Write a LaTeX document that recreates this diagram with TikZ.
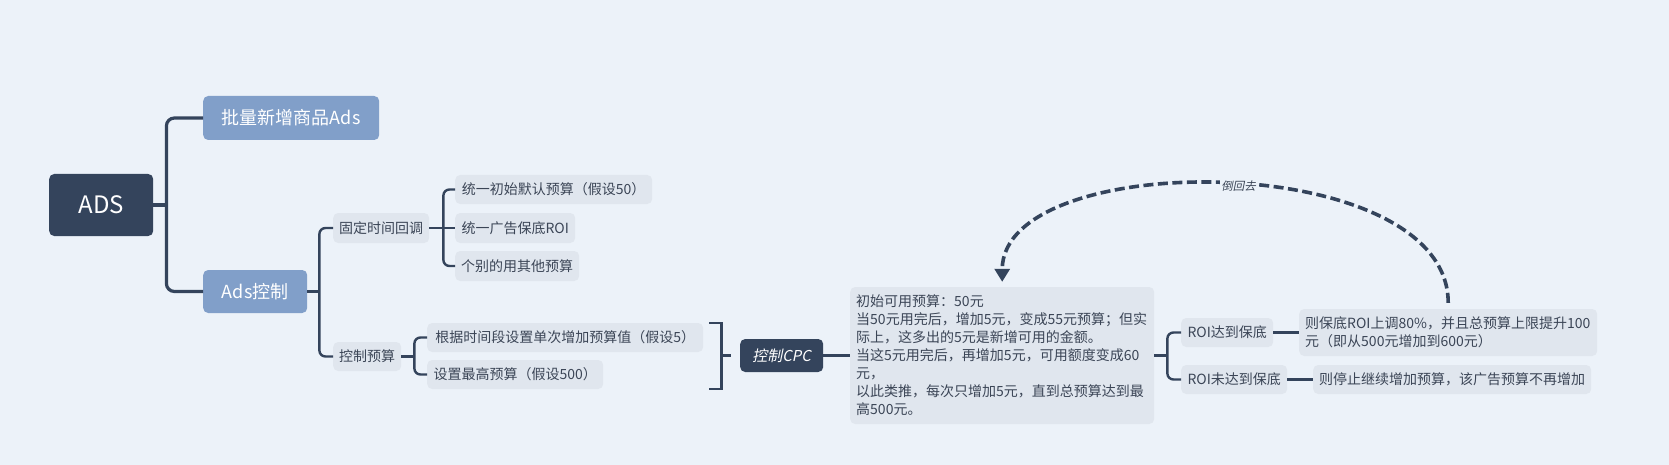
\documentclass[tikz,border=0pt]{standalone}
\usepackage{fontspec}
\setmainfont{Noto Sans CJK SC}
\newfontfamily\slantcjk{Noto Sans CJK SC}[FakeSlant=0.2]
\usepackage{xcolor}
\usetikzlibrary{arrows.meta, positioning}
\definecolor{bgc}{HTML}{ECF2F9}
\definecolor{dark}{HTML}{34445C}
\definecolor{mid}{HTML}{819FC9}
\definecolor{pale}{HTML}{E0E6EE}
\definecolor{txt}{HTML}{3B4556}

\begin{document}
\begin{tikzpicture}[x=1pt, y=-1pt,
    root/.style={fill=dark, text=white, rounded corners=5pt, anchor=west, font=\fontsize{24}{27}\selectfont, minimum width=104pt, minimum height=62pt},
    main/.style={fill=mid, text=white, rounded corners=5pt, anchor=west, font=\fontsize{18}{21}\selectfont, minimum height=44pt},
    leaf/.style={fill=pale, text=txt, rounded corners=5pt, anchor=west, inner xsep=6pt, font=\fontsize{14}{18}\selectfont, minimum height=29pt},
    branch/.style={draw=dark, line width=3.2pt, rounded corners=8pt},
    twig/.style={draw=dark, line width=2.4pt, rounded corners=6pt},
    brace/.style={draw=dark, line width=2.2pt}]
    \fill[bgc] (0,0) rectangle (1669,465);
    \useasboundingbox (0,0) rectangle (1669,465);

    \node[root] (ads) at (49,205) {ADS};
    \node[main, minimum width=176pt] (batch) at (203,118) {批量新增商品Ads};
    \node[main, minimum width=104pt, minimum height=43pt] (ctrl) at (203,291.5) {Ads控制};
    \node[leaf, minimum width=95pt, minimum height=30pt] (fixed) at (333,228) {固定时间回调};
    \node[leaf, minimum width=68pt] (budget) at (333,356.5) {控制预算};
    \node[leaf, minimum width=197pt] (f1) at (455,189.5) {统一初始默认预算（假设50）};
    \node[leaf, minimum width=120pt, minimum height=30pt] (f2) at (455,228) {统一广告保底ROI};
    \node[leaf, minimum width=123pt, minimum height=30pt] (f3) at (455,266) {个别的用其他预算};
    \node[leaf, minimum width=276pt] (b1) at (427,337.5) {根据时间段设置单次增加预算值（假设5）};
    \node[leaf, minimum width=176pt] (b2) at (427,374.5) {设置最高预算（假设500）};
    \node[root, font=\slantcjk\fontsize{15}{18}\selectfont, minimum width=83pt, minimum height=33pt] (cpc) at (740,355.5) {控制CPC};
    \node[leaf, text width=292pt, minimum height=137pt, align=left] (note) at (850,355.5)
        {初始可用预算：50元\\当50元用完后，增加5元，变成55元预算；但实\\际上，这多出的5元是新增可用的金额。\\当这5元用完后，再增加5元，可用额度变成60\\元，\\以此类推，每次只增加5元，直到总预算达到最\\高500元。};
    \node[leaf, minimum width=92pt] (r1) at (1181,332.5) {ROI达到保底};
    \node[leaf, minimum width=106pt] (r2) at (1181,379.5) {ROI未达到保底};
    \node[leaf, text width=286pt, minimum height=47pt, align=left] (r1n) at (1299,332.5) {则保底ROI上调80\%，并且总预算上限提升100\\元（即从500元增加到600元）};
    \node[leaf, minimum width=277pt] (r2n) at (1313,379.5) {则停止继续增加预算，该广告预算不再增加};

    \coordinate (j0) at ([xshift=13pt]ads.east);
    \draw[branch] (ads.east) -- (j0);
    \draw[branch] (batch.west) -| (j0) |- (ctrl.west);
    \coordinate (j1) at ([xshift=12pt]ctrl.east);
    \draw[twig] (ctrl.east) -- (j1);
    \draw[twig] (fixed.west) -| (j1) |- (budget.west);
    \coordinate (j2) at ([xshift=14pt]fixed.east);
    \draw[twig] (fixed.east) -- (f2.west);
    \draw[twig] (f1.west) -| (j2) |- (f3.west);
    \coordinate (j3) at ([xshift=13pt]budget.east);
    \draw[twig] (budget.east) -- (j3);
    \draw[twig] (b1.west) -| (j3) |- (b2.west);

    \coordinate (k1) at ([xshift=6pt]b1.north east);
    \draw[brace] (k1) -- ++(12,0) |- (k1 |- b2.south);
    \coordinate (k2) at ([xshift=12pt]k1 |- cpc.west);
    \draw[brace] (k2) -- ([xshift=10pt]k2);

    \draw[twig] (cpc.east) -- (note.west);
    \coordinate (j4) at ([xshift=13pt]note.east);
    \draw[twig] (note.east) -- (j4);
    \draw[twig] (r1.west) -| (j4) |- (r2.west);
    \draw[twig] (r1.east) -- (r1n.west);
    \draw[twig] (r2.east) -- (r2n.west);

    \draw[dark, line width=3.6pt, dash pattern=on 10pt off 4.5pt, -{Triangle[width=15pt,length=13pt]}, shorten <=6pt, shorten >=5pt]
        (r1n.north) .. controls ([yshift=160pt]r1n.north) and ([yshift=140pt]note.north) .. node[pos=0.48, fill=bgc, inner sep=1pt, text=txt, font=\slantcjk\fontsize{11.5}{12}\selectfont] (back) {倒回去} (note.north);
\end{tikzpicture}
\end{document}
